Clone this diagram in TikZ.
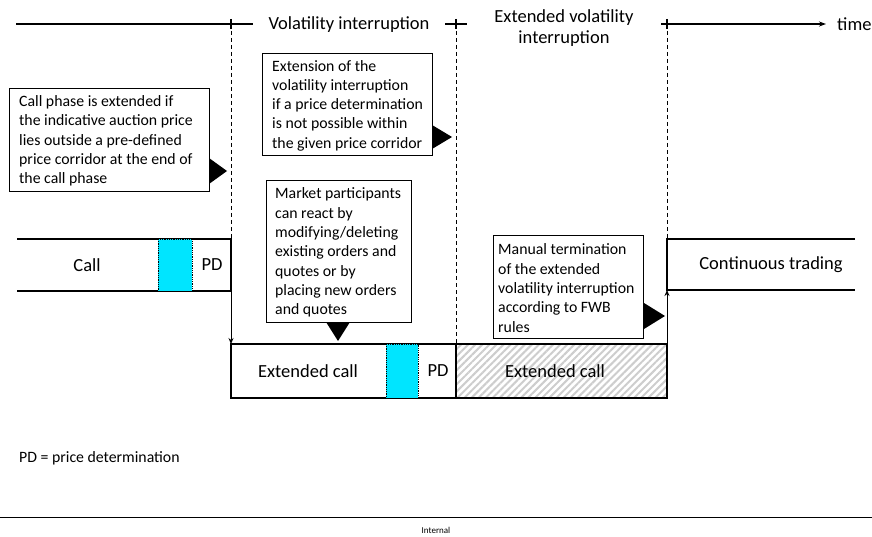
\documentclass[tikz,border=0pt]{standalone}
\usepackage{fontspec}
\setmainfont{Carlito}
\usetikzlibrary{positioning,arrows.meta,patterns.meta}
\tikzstyle{timeline} = [x = 1pt, y = -1pt, every node/.style={inner sep=0pt}]
\definecolor{pdColor}{RGB}{0,229,255}
\definecolor{hatchColor}{RGB}{205,205,205}
\newcommand{\phaseFont}{\fontsize{18.5}{21}\selectfont}
\newcommand{\noteFont}{\fontsize{15.8}{19.3}\selectfont}
\tikzstyle{phaseLine} = [color=black, line width=1.1pt]
\tikzstyle{boundaryLine} = [color=black, line width=.9pt, dash pattern=on 4pt off 3pt]
\tikzstyle{switchArrow} = [color=black, line width=.9pt, -{Stealth[length=6pt,width=5pt]}]
\tikzstyle{pdStyle} = [fill=pdColor, draw=black, line width=.8pt, densely dotted]
\tikzstyle{hatchStyle} = [pattern={Lines[angle=45, distance=5pt, line width=2pt]}, pattern color=hatchColor]
\tikzstyle{phaseText} = [font=\phaseFont]
\tikzstyle{noteFrame} = [draw, line width=1pt, fill=white, anchor=north west]
\tikzstyle{noteText} = [anchor=west, align=left, font=\noteFont]
\newcommand{\pdCell}[4]{\filldraw [pdStyle] (#1,#2) rectangle (#3,#4);}
\newcommand{\tick}[1]{\draw [phaseLine] (#1,19) -- (#1,29);}
\newcommand{\pointerRight}[4]{\fill (#1,#2 - #3) -- (#1 + #4,#2) -- (#1,#2 + #3) -- cycle;}
\newcommand{\pointerDown}[4]{\fill (#1 - #3,#2) -- (#1,#2 + #4) -- (#1 + #3,#2) -- cycle;}

\begin{document}
\begin{tikzpicture}[timeline]
    \useasboundingbox (0,0) rectangle (872,537);
    % time axis
    \draw [phaseLine] (16,24) -- (253,24);
    \draw [phaseLine] (445,24) -- (467,24);
    \draw [phaseLine, -{Stealth[length=7pt,width=5pt]}] (661,24) -- (826,24);
    \tick{231}
    \tick{456}
    \tick{667}
    \node [phaseText] (volatilityHead) at (349,25) {Volatility interruption};
    \node [phaseText, align=center] (extendedHead) at (564,28) {Extended volatility\\interruption};
    \node [phaseText, anchor=west] (timeLabel) at (837,24) {time};
    % phase boundaries
    \coordinate (callEnd) at (231,291);
    \coordinate (extendedStart) at (231,344);
    \coordinate (hatchEnd) at (667,398);
    \coordinate (continuousStart) at (667,290);
    \draw [boundaryLine] (231,24) -- (231,239);
    \draw [boundaryLine] (456,24) -- (456,344);
    \draw [boundaryLine] (667,24) -- (667,239);
    % call
    \draw [phaseLine] (17,239) -- (231,239) -- (231,291) -- (17,291);
    \pdCell{158}{239}{192}{291}
    \node [phaseText] (callText) at (87,265) {Call};
    \node [phaseText] (callPD) at (212,265) {PD};
    % extended call
    \draw [phaseLine] (231,344) rectangle (456,398);
    \pdCell{386}{344}{418}{398}
    \node [phaseText] (extendedText) at (308,371) {Extended call};
    \node [phaseText] (extendedPD) at (438,371) {PD};
    \fill [hatchStyle] (456,344) rectangle (667,398);
    \draw [phaseLine] (456,344) rectangle (667,398);
    \node [phaseText] (hatchText) at (555,371) {Extended call};
    % continuous trading
    \draw [phaseLine] (855,239) -- (667,239) -- (667,290) -- (855,290);
    \node [phaseText] (continuousText) at (771,265) {Continuous trading};
    \draw [switchArrow] (callEnd) -- (extendedStart);
    \draw [switchArrow] (hatchEnd) -- (continuousStart);
    % notes
    \node [noteFrame, minimum width=200pt, minimum height=103pt] (callNote) at (9,88) {};
    \node [noteText] (callNoteText) at ([xshift=10pt,yshift=-1pt]callNote.west)
      {Call phase is extended if\\the indicative auction price\\lies outside a pre-defined\\price corridor at the end of\\the call phase};
    \node [noteFrame, minimum width=170pt, minimum height=102pt] (extensionNote) at (262,53) {};
    \node [noteText] (extensionNoteText) at ([xshift=10pt,yshift=-1pt]extensionNote.west)
      {Extension of the\\volatility interruption\\if a price determination\\is not possible within\\the given price corridor};
    \node [noteFrame, minimum width=145pt, minimum height=142pt] (reactNote) at (266,180) {};
    \node [noteText] (reactNoteText) at ([xshift=9pt,yshift=-1pt]reactNote.west)
      {Market participants\\can react by\\modifying/deleting\\existing orders and\\quotes or by\\placing new orders\\and quotes};
    \node [noteFrame, minimum width=150pt, minimum height=103pt] (terminationNote) at (493,235) {};
    \node [noteText] (terminationNoteText) at ([xshift=5pt,yshift=-1pt]terminationNote.west)
      {Manual termination\\of the extended\\volatility interruption\\according to FWB\\rules};
    \pointerRight{209}{171}{13}{18}
    \pointerRight{432}{137}{12}{20}
    \pointerDown{338}{322}{12}{19}
    \pointerRight{644}{316}{13}{21}
    % footer
    \node [font=\noteFont, anchor=west] (pdLegend) at (19,458) {PD = price determination};
    \draw [line width=1pt] (0,517) -- (872,517);
    \node [font=\fontsize{9}{10}\selectfont] (internalLabel) at (436,530) {Internal};
\end{tikzpicture}
\end{document}
